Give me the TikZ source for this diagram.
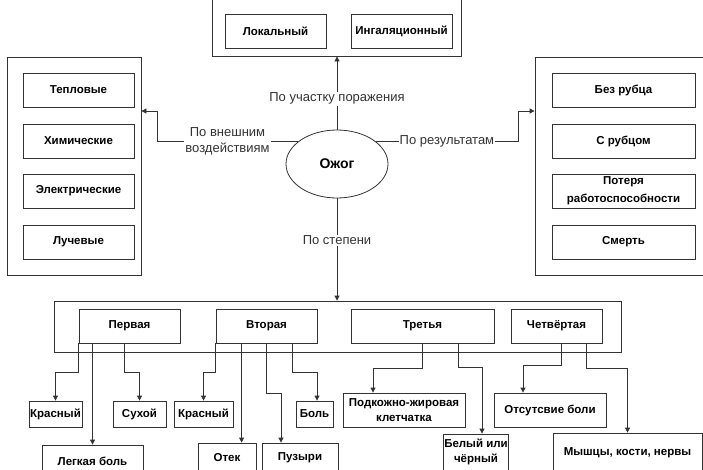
\documentclass[tikz,border=0pt]{standalone}
\usepackage{fontspec}
\setmainfont{Liberation Sans}
\usetikzlibrary{arrows.meta,calc,shapes.geometric}
\begin{document}
\begin{tikzpicture}[x=1pt,y=-1pt,
  sz/.style 2 args={minimum width=#1pt, minimum height=#2pt},
  bx/.style={draw=black!80, line width=0.8pt, fill=white, inner sep=1pt, align=center,
    font=\fontsize{11.5}{15}\selectfont\bfseries},
  frame/.style={draw=black!80, line width=0.8pt, inner sep=0pt},
  arr/.style={draw=black!80, line width=0.8pt, -{Triangle[length=5pt,width=5pt]}},
  lbl/.style={fill=white, font=\fontsize{13}{16}\selectfont, text=black!80, inner sep=1pt, align=center}]
\useasboundingbox (0,0) rectangle (703,469);
\clip (0,0) rectangle (703,469);

% group frames
\node[frame, sz={249}{76}]  (tframe) at (336.5,18)  {};
\node[frame, sz={134}{218}] (lframe) at (74,166)    {};
\node[frame, sz={185}{218}] (rframe) at (627.5,166) {};
\node[frame, sz={567}{51}]  (bframe) at (337.5,326.5) {};

% central node
\node[draw=black!80, line width=0.8pt, ellipse, sz={102}{68}, inner sep=0pt,
  font=\fontsize{14}{16}\selectfont\bfseries] (ell) at (337,164) {Ожог};

% by area
\node[bx, sz={101}{34}] (lok) at (275.5,31) {Локальный};
\node[bx, sz={101}{34}] (ing) at (401.5,31) {Ингаляционный};

% by external factor
\node[bx, sz={111}{34}] (tep) at (78.5,90)  {Тепловые};
\node[bx, sz={111}{34}] (him) at (78.5,141) {Химические};
\node[bx, sz={111}{34}] (ele) at (78.5,191) {Электрические};
\node[bx, sz={111}{34}] (luc) at (78.5,242) {Лучевые};

% by outcome
\node[bx, sz={143}{34}] (bez) at (623.5,90)  {Без рубца};
\node[bx, sz={143}{34}] (sru) at (623.5,141) {С рубцом};
\node[bx, sz={143}{34}, font=\fontsize{11.5}{18}\selectfont\bfseries] (pot) at (623.5,191) {Потеря\\работоспособности};
\node[bx, sz={143}{34}] (sme) at (623.5,242) {Смерть};

% degrees
\node[bx, sz={101}{34}] (p1) at (129.5,326) {Первая};
\node[bx, sz={101}{34}] (v2) at (266.5,326) {Вторая};
\node[bx, sz={143}{34}] (t3) at (422.5,326) {Третья};
\node[bx, sz={91}{34}]  (c4) at (556.5,326) {Четвёртая};

% symptoms
\node[bx, sz={53}{26}]  (kr1)  at (55.5,414)  {Красный};
\node[bx, sz={53}{26}]  (suh)  at (139.5,414) {Сухой};
\node[bx, sz={101}{32}] (lb)   at (92.5,461)  {Легкая боль};
\node[bx, sz={59}{26}]  (kr2)  at (203.5,414) {Красный};
\node[bx, sz={58}{30}]  (otek) at (227,458)   {Отек};
\node[bx, sz={76}{30}]  (puz)  at (300,458)   {Пузыри};
\node[bx, sz={37}{26}]  (bol)  at (314.5,414) {Боль};
\node[bx, sz={122}{34}] (pod)  at (404,410)   {Подкожно-жировая\\клетчатка};
\node[bx, sz={64}{36}]  (bel)  at (476,452)   {Белый или\\чёрный};
\node[bx, sz={112}{34}] (ots)  at (550,410)   {Отсутсвие боли};
\node[bx, sz={149}{40}] (mys)  at (627.5,453) {Мышцы, кости, нервы};

% classification connectors
\draw[arr] (ell.north) -- (ell.north |- tframe.south)
  node[lbl, pos=0.42] {По участку поражения};
\coordinate (lbend) at (157,111);
\draw[arr] (ell.150) -| (lbend)
  node[lbl, pos=0.25] {По внешним\\воздействиям}
  -- (lbend -| lframe.east);
\coordinate (rbend) at (518,111);
\draw[arr] (ell.30) -| (rbend)
  node[lbl, pos=0.25] {По результатам}
  -- (rbend -| rframe.west);
\draw[arr] (ell.south) -- (ell.south |- bframe.north)
  node[lbl, pos=0.41] {По степени};

% first degree
\draw[arr] (p1.south west) -- ++(0,29) -| (kr1.north);
\draw[arr] (lb.north |- p1.south) -- (lb.north);
\draw[arr] ([xshift=-5.5]p1.south) -- ++(0,29) -| (suh.north);

% second degree
\draw[arr] (v2.south west) -- ++(0,29) -| (kr2.north);
\draw[arr] ([xshift=26]v2.south west) coordinate (ot) -- (ot |- otek.north);
\draw[arr] (v2.south) -- ++(0,50) -| ([xshift=-19]puz.north);
\draw[arr] ([xshift=25.5]v2.south) -- ++(0,29) -| ([xshift=2.5]bol.north);

% third degree
\draw[arr] (t3.south) -- ++(0,25) -| ([xshift=-31]pod.north);
\draw[arr] ([xshift=35.5]t3.south) -- ++(0,24) -| ([xshift=6]bel.north);

% fourth degree
\draw[arr] ([xshift=4.5]c4.south) -- ++(0,22) -| ([xshift=-27]ots.north);
\draw[arr] ([xshift=29.5]c4.south) -- ++(0,25) -| (mys.north);
\end{tikzpicture}
\end{document}
